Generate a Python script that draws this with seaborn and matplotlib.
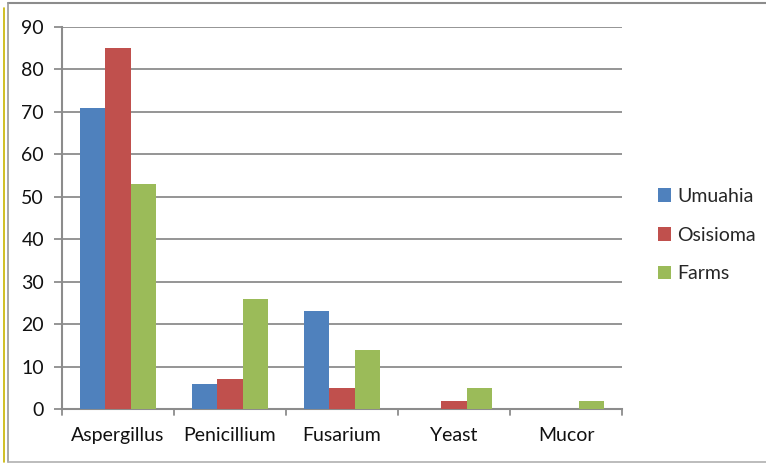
import matplotlib
matplotlib.use("Agg")
import matplotlib.pyplot as plt
from matplotlib.patches import Patch
from matplotlib.lines import Line2D
import seaborn as sns
import pandas as pd

genera = ["Aspergillus", "Penicillium", "Fusarium", "Yeast", "Mucor"]
sites = ["Umuahia", "Osisioma", "Farms"]
umuahia = [71, 6, 23, 0, 0]
osisioma = [85, 7, 5, 2, 0]
farms = [53, 26, 14, 5, 2]
colors = ["#4F81BD", "#C0504D", "#9BBB59"]
yticks = [0, 10, 20, 30, 40, 50, 60, 70, 80, 90]

rows = []
for site, vals in zip(sites, [umuahia, osisioma, farms]):
    for g, v in zip(genera, vals):
        rows.append({"Genus": g, "Site": site, "Count": v})
df = pd.DataFrame(rows)

sns.set_theme(style="white")
plt.rcParams["font.family"] = ["Lato", "DejaVu Sans"]

W, H = 766, 463
fig = plt.figure(figsize=(W / 100, H / 100), dpi=100)
ax = fig.add_axes([62 / W, 1 - 409 / H, (622 - 62) / W, (409 - 27) / H])

sns.barplot(data=df, x="Genus", y="Count", hue="Site", order=genera,
            hue_order=sites, palette=colors, width=0.67, gap=0,
            saturation=1, edgecolor="none", ax=ax, legend=False, zorder=3)

grid_c = "#8C8C8C"
txt_c = "#111111"
fs = 14
ax.set_ylim(0, 90)
ax.set_xlim(-0.5, 4.5)
ax.set_yticks(yticks)
ax.set_yticklabels([str(t) for t in yticks], fontsize=fs, color=txt_c)
for t in yticks[1:]:
    ax.axhline(t, color=grid_c, lw=1.3, zorder=1)
ax.set_xticks(range(len(genera)))
ax.set_xticklabels(genera, fontsize=fs, color=txt_c)
ax.tick_params(axis="x", length=0, pad=13)
ax.tick_params(axis="y", length=6, width=1.3, color=grid_c, pad=7, left=True)
for b in [i - 0.5 for i in range(len(genera) + 1)]:
    ax.plot([b, b], [0, -0.017], transform=ax.get_xaxis_transform(),
            color=grid_c, lw=1.3, clip_on=False)
for s in ["top", "right"]:
    ax.spines[s].set_visible(False)
for s in ["left", "bottom"]:
    ax.spines[s].set_color(grid_c)
    ax.spines[s].set_linewidth(1.5)
ax.set_xlabel("")
ax.set_ylabel("")

handles = [Patch(facecolor=c, edgecolor="none") for c in colors]
fig.legend(handles, sites, loc="upper left", bbox_to_anchor=(650 / W, 1 - 180 / H),
           frameon=False, fontsize=fs, handlelength=0.7, handleheight=0.7,
           handletextpad=0.3, labelspacing=1.12, borderaxespad=0)

# outer frame
fig.add_artist(Line2D([8 / W, 1], [1 - 3 / H, 1 - 3 / H], transform=fig.transFigure,
                      color="#8C8C8C", lw=1.5))
fig.add_artist(Line2D([8 / W, 8 / W], [1 - 3 / H, 1 - 462 / H], transform=fig.transFigure,
                      color="#9A9A9A", lw=1.2))
fig.add_artist(Line2D([8 / W, 1], [1 - 462 / H, 1 - 462 / H], transform=fig.transFigure,
                      color="#B0B0B0", lw=1.2))
fig.add_artist(Line2D([4 / W, 4 / W], [1 - 8 / H, 1 - 462 / H], transform=fig.transFigure,
                      color="#C8B400", lw=1.2))

fig.savefig("out.png", dpi=100)
